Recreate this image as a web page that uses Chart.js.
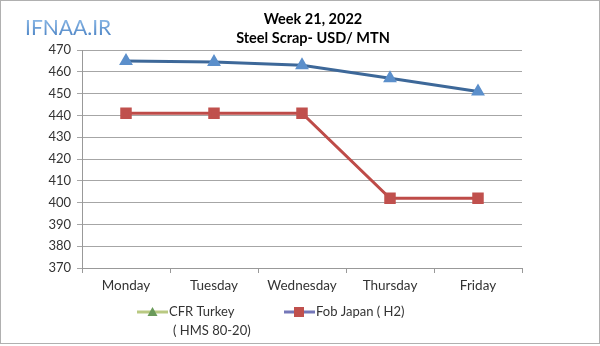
<!DOCTYPE html>
<html>
<head>
<meta charset="utf-8">
<script src="https://cdn.jsdelivr.net/npm/chart.js@4.4.1/dist/chart.umd.min.js"></script>
<style>
  html, body { margin: 0; padding: 0; background: #fff; }
  #wrap { width: 600px; height: 346px; }
</style>
</head>
<body>
<div id="wrap"><canvas id="chart" width="600" height="346"></canvas></div>
<script>
// datos del grafico
const dias = ['Monday', 'Tuesday', 'Wednesday', 'Thursday', 'Friday'];
const cfrTurkey = [465, 464.5, 463, 457, 451];
const fobJapan = [441, 441, 441, 402, 402];
const ejeY = { min: 370, max: 470, paso: 10 };
const titulo = ['Week 21, 2022', 'Steel Scrap- USD/ MTN'];
const logo = 'IFNAA.IR';
const leyenda = [
    { texto: ['CFR Turkey', '( HMS 80-20)'], linea: '#b9c982', marca: '#6a9a5a', forma: 'triangle' },
    { texto: ['Fob Japan ( H2)'], linea: '#7477b8', marca: '#c0504d', forma: 'rect' }
];

const fuente = "Lato, 'Open Sans', sans-serif";

// plugin para el marco, logo, titulo y leyenda
const decoracion = {
    id: 'decoracion',
    afterDraw(chart) {
        const ctx = chart.ctx;
        ctx.save();
        // marco
        ctx.strokeStyle = '#b0b0b0';
        ctx.lineWidth = 1;
        ctx.strokeRect(0.5, 0.5, 599, 343);

        // logo
        ctx.font = '21px ' + fuente;
        ctx.textBaseline = 'alphabetic';
        ctx.textAlign = 'left';
        const grad = ctx.createLinearGradient(0, 19, 0, 36);
        grad.addColorStop(0, '#8bb8e6');
        grad.addColorStop(1, '#4f86c6');
        ctx.fillStyle = grad;
        ctx.fillText(logo, 25, 35);

        // titulo
        ctx.fillStyle = '#000';
        ctx.textAlign = 'center';
        ctx.font = 'bold 14.5px ' + fuente;
        ctx.fillText(titulo[0], 313, 24);
        ctx.fillText(titulo[1], 313, 43);

        // leyenda
        ctx.textAlign = 'left';
        ctx.font = '13px ' + fuente;
        const posX = [137, 284];
        leyenda.forEach(function (item, i) {
            const x = posX[i], y = 312;
            ctx.strokeStyle = item.linea;
            ctx.lineWidth = 3;
            ctx.beginPath();
            ctx.moveTo(x, y);
            ctx.lineTo(x + 31, y);
            ctx.stroke();
            ctx.fillStyle = item.marca;
            if (item.forma === 'triangle') {
                ctx.beginPath();
                ctx.moveTo(x + 15.5, y - 5);
                ctx.lineTo(x + 20.5, y + 4);
                ctx.lineTo(x + 10.5, y + 4);
                ctx.closePath();
                ctx.fill();
            } else {
                ctx.fillRect(x + 10, y - 5, 10, 10);
            }
            ctx.fillStyle = '#333';
            ctx.textBaseline = 'middle';
            item.texto.forEach(function (t, j) {
                ctx.fillText(t, x + 32 + (j > 0 ? 4 : 0), y + j * 19);
            });
        });
        ctx.restore();
    }
};

new Chart(document.getElementById('chart'), {
    type: 'line',
    data: {
        labels: dias,
        datasets: [{
            label: 'CFR Turkey ( HMS 80-20)',
            data: cfrTurkey,
            borderColor: '#3d6899',
            borderWidth: 3,
            pointStyle: 'triangle',
            pointRadius: 5,
            pointBackgroundColor: '#5b8fcb',
            pointBorderColor: '#5b8fcb',
            tension: 0
        }, {
            label: 'Fob Japan ( H2)',
            data: fobJapan,
            borderColor: '#be4b48',
            borderWidth: 3,
            pointStyle: 'rect',
            pointRadius: 6,
            pointBackgroundColor: '#c0504d',
            pointBorderColor: '#c0504d',
            tension: 0
        }]
    },
    options: {
        responsive: false,
        animation: false,
        layout: { padding: { left: 30, top: 50, right: 78, bottom: 48 } },
        plugins: {
            legend: { display: false },
            title: { display: false },
            tooltip: { enabled: false }
        },
        scales: {
            x: {
                offset: true,
                grid: { offset: true, drawOnChartArea: false, drawTicks: true, tickLength: 5, color: '#999' },
                border: { color: '#999' },
                ticks: { color: '#333', font: { family: fuente, size: 13.5 }, padding: 5 },
                afterFit: function (s) { s.height = 30; }
            },
            y: {
                min: ejeY.min,
                max: ejeY.max,
                ticks: { stepSize: ejeY.paso, color: '#333', font: { family: fuente, size: 13 }, padding: 6 },
                grid: { color: '#a6a6a6', tickLength: 5 },
                border: { color: '#999' },
                afterFit: function (s) { s.width = 52; }
            }
        }
    },
    plugins: [decoracion]
});
</script>
</body>
</html>
